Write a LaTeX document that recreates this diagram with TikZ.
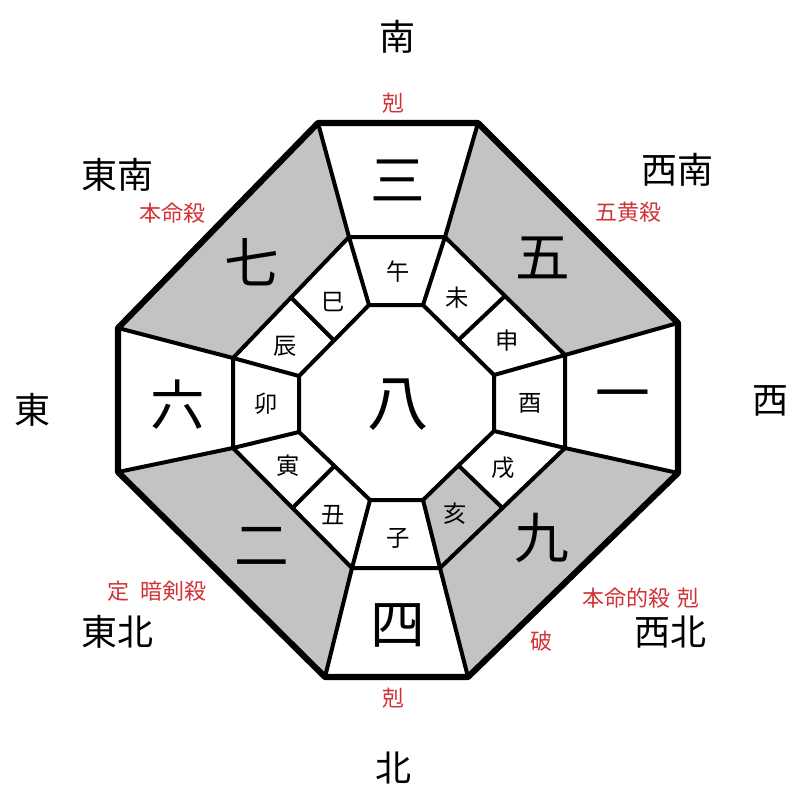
\documentclass[tikz,border=0pt]{standalone}
\usepackage{fontspec}
\usetikzlibrary{calc}
\newfontfamily\cjk{Noto Sans CJK JP}
\definecolor{sectorgray}{RGB}{195,195,195}
\definecolor{labelred}{RGB}{210,50,55}
\tikzset{
  dirlabel/.style={font=\cjk\fontsize{27}{27}\selectfont, text=black, inner sep=0pt},
  redlabel/.style={font=\cjk\fontsize{16.5}{16.5}\selectfont, text=labelred, inner sep=0pt},
  bignum/.style={font=\cjk\fontsize{41}{41}\selectfont, inner sep=0pt},
  ringlabel/.style={font=\cjk\fontsize{17.5}{17.5}\selectfont, inner sep=0pt},
  gridline/.style={line width=3pt, line join=round},
  rimline/.style={line width=4.6pt, line join=round},
}
\begin{document}
\begin{tikzpicture}[x=0.75pt, y=-0.75pt]
\useasboundingbox (0,0) rectangle (800,800);
% outer octagon
\coordinate (O1) at (318,123); \coordinate (O2) at (478,123);
\coordinate (O3) at (678,323); \coordinate (O4) at (678,473);
\coordinate (O5) at (468,677); \coordinate (O6) at (325,677);
\coordinate (O7) at (118,472); \coordinate (O8) at (118,328);
% middle octagon
\coordinate (M1) at (349,237); \coordinate (M2) at (445,237);
\coordinate (M3) at (565,355); \coordinate (M4) at (565,448);
\coordinate (M5) at (440,568); \coordinate (M6) at (352,568);
\coordinate (M7) at (233,448); \coordinate (M8) at (233,358);
% inner octagon
\coordinate (I1) at (369,305); \coordinate (I2) at (423,305);
\coordinate (I3) at (494,375); \coordinate (I4) at (494,431);
\coordinate (I5) at (423,500); \coordinate (I6) at (370,500);
\coordinate (I7) at (299,432); \coordinate (I8) at (299,376);
% midpoints of diagonal ring cells
\coordinate (A2) at ($(M2)!0.5!(M3)$); \coordinate (B2) at ($(I2)!0.5!(I3)$);
\coordinate (A4) at ($(M4)!0.5!(M5)$); \coordinate (B4) at ($(I4)!0.5!(I5)$);
\coordinate (A6) at ($(M6)!0.5!(M7)$); \coordinate (B6) at ($(I6)!0.5!(I7)$);
\coordinate (A8) at ($(M8)!0.5!(M1)$); \coordinate (B8) at ($(I8)!0.5!(I1)$);
% gray fills
\fill[sectorgray] (O2) -- (O3) -- (M3) -- (M2) -- cycle;
\fill[sectorgray] (O4) -- (O5) -- (M5) -- (M4) -- cycle;
\fill[sectorgray] (O6) -- (O7) -- (M7) -- (M6) -- cycle;
\fill[sectorgray] (O8) -- (O1) -- (M1) -- (M8) -- cycle;
\fill[sectorgray] (M5) -- (A4) -- (B4) -- (I5) -- cycle;
% radial lines
\foreach \k in {1,...,8} {
  \draw[gridline] (O\k) -- (M\k) -- (I\k);
}
% middle and inner octagons
\draw[gridline] (M1) -- (M2) -- (M3) -- (M4) -- (M5) -- (M6) -- (M7) -- (M8) -- cycle;
\draw[gridline] (I1) -- (I2) -- (I3) -- (I4) -- (I5) -- (I6) -- (I7) -- (I8) -- cycle;
% splits of diagonal ring cells
\draw[gridline] (A2) -- (B2);
\draw[gridline] (A4) -- (B4);
\draw[gridline] (A6) -- (B6);
\draw[gridline] (A8) -- (B8);
% outer rim
\draw[rimline] (O1) -- (O2) -- (O3) -- (O4) -- (O5) -- (O6) -- (O7) -- (O8) -- cycle;
% sector numbers
\node[bignum] (n3) at (398,180) {三};
\node[bignum] (n5) at (543,258) {五};
\node[bignum] (n1) at (623,402) {一};
\node[bignum] (n9) at (542,538) {九};
\node[bignum] (n4) at (398,625) {四};
\node[bignum] (n2) at (262,546) {二};
\node[bignum] (n6) at (178,405) {六};
\node[bignum] (n7) at (252,262) {七};
\node[font=\cjk\fontsize{46}{46}\selectfont, inner sep=0pt] (n8) at (398,405) {八};
% ring labels
\node[ringlabel] (r1) at (398,272) {午};
\node[ringlabel] (r2) at (457,298) {未};
\node[ringlabel] (r3) at (507,341) {申};
\node[ringlabel] (r4) at (530,403) {酉};
\node[ringlabel] (r5) at (503,468) {戌};
\node[ringlabel] (r6) at (455,514) {亥};
\node[ringlabel] (r7) at (398,538) {子};
\node[ringlabel] (r8) at (333,515) {丑};
\node[ringlabel] (r9) at (288,466) {寅};
\node[ringlabel] (r10) at (266,404) {卯};
\node[ringlabel] (r11) at (285,346) {辰};
\node[ringlabel] (r12) at (333,302) {巳};
% directions
\node[dirlabel] (dS) at (397,37) {南};
\node[dirlabel] (dN) at (393,768) {北};
\node[dirlabel] (dE) at (32,410) {東};
\node[dirlabel] (dW) at (770,401) {西};
\node[dirlabel] (dSE) at (117,175) {東南};
\node[dirlabel] (dSW) at (677,170) {西南};
\node[dirlabel] (dNE) at (117,632) {東北};
\node[dirlabel] (dNW) at (670,632) {西北};
% red labels
\node[redlabel] (k1) at (393,103) {剋};
\node[redlabel] (k2) at (393,698) {剋};
\node[redlabel] (k3) at (172,213) {本命殺};
\node[redlabel] (k4) at (628,212) {五黄殺};
\node[redlabel] (k5) at (157,591) {定\hspace{0.5em}暗剣殺};
\node[redlabel] (k6) at (641,598) {本命的殺\hspace{0.3em}剋};
\node[redlabel] (k7) at (541,641) {破};
\end{tikzpicture}
\end{document}
